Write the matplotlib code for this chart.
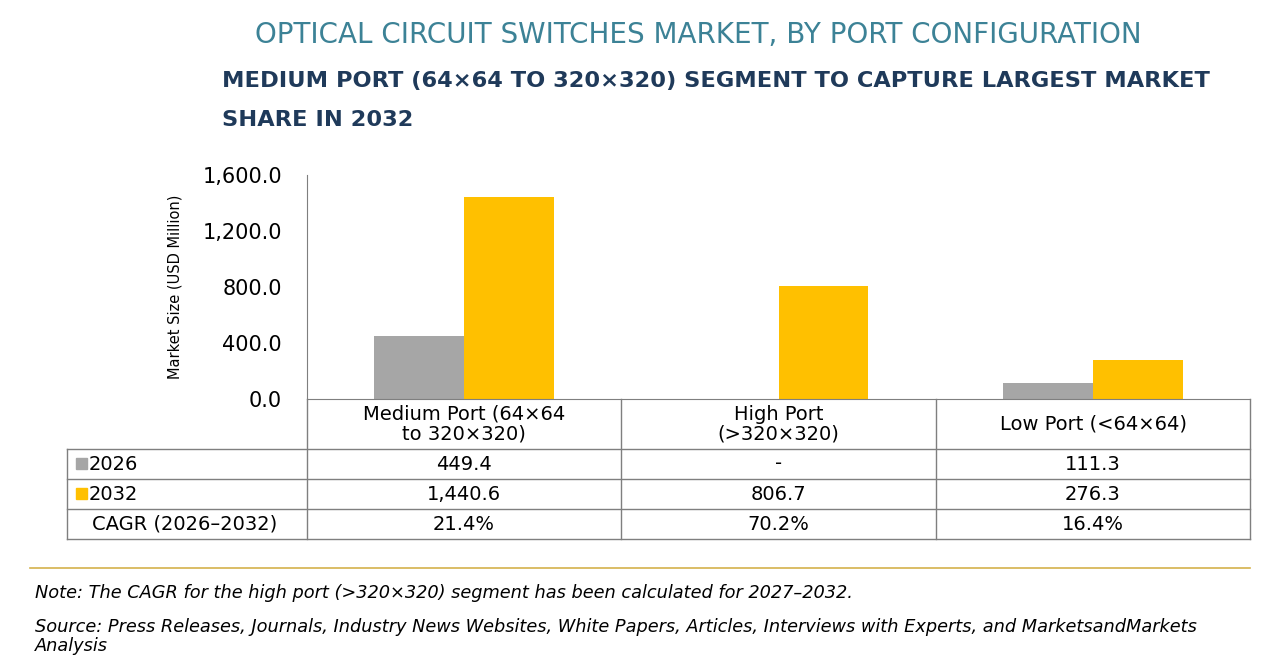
import matplotlib.pyplot as plt
import numpy as np

categories = ["Medium Port (64×64\nto 320×320)", "High Port\n(>320×320)", "Low Port (<64×64)"]
years = ["2026", "2032"]
values_2026 = [449.4, 0, 111.3]
values_2032 = [1440.6, 806.7, 276.3]
labels_2026 = ["449.4", "-", "111.3"]
labels_2032 = ["1,440.6", "806.7", "276.3"]
labels_cagr = ["21.4%", "70.2%", "16.4%"]
yticks = [0, 400, 800, 1200, 1600]

gray = "#a6a6a6"
orange = "#ffc000"
W, H = 1280, 670

plt.rcParams['font.family'] = ['DejaVu Sans']
fig = plt.figure(figsize=(12.8, 6.7), dpi=100)

def fx(px):
    return px / W

def fy(py):
    return 1 - py / H

fig.text(fx(698), fy(35), "OPTICAL CIRCUIT SWITCHES MARKET, BY PORT CONFIGURATION",
         ha="center", va="center", fontsize=20, color="#3c8296")
fig.text(fx(222), fy(81), "MEDIUM PORT (64×64 TO 320×320) SEGMENT TO CAPTURE LARGEST MARKET",
         ha="left", va="center", fontsize=16.2, color="#1f3a5a", fontweight="bold")
fig.text(fx(222), fy(120), "SHARE IN 2032",
         ha="left", va="center", fontsize=16.2, color="#1f3a5a", fontweight="bold")

ax = fig.add_axes([fx(307), fy(399), fx(1250) - fx(307), (399 - 175) / H])
x = np.arange(len(categories))
w = 0.286
ax.bar(x - w / 2, values_2026, w, color=gray)
ax.bar(x + w / 2, values_2032, w, color=orange)
ax.set_xlim(-0.5, 2.5)
ax.set_ylim(0, 1600)
ax.set_yticks(yticks)
ax.set_yticklabels([f"{v:,.1f}" for v in yticks], fontsize=15)
ax.set_xticks([])
for s in ["top", "right"]:
    ax.spines[s].set_visible(False)
ax.spines["left"].set_color("#7f7f7f")
ax.spines["bottom"].set_color("#7f7f7f")
ax.tick_params(axis="y", length=0, pad=18)
ax.set_ylabel("Market Size (USD Million)", fontsize=10.5, labelpad=14)

# table
tab = fig.add_axes([0, 0, 1, 1], facecolor="none")
tab.set_xlim(0, W)
tab.set_ylim(H, 0)
tab.axis("off")
lc = "#7f7f7f"
cols = [307, 621, 936, 1250]
rows = [399, 449, 479, 509, 539]
for c in cols:
    tab.plot([c, c], [399, 539], color=lc, lw=1)
tab.plot([67, 67], [449, 539], color=lc, lw=1)
for r in rows[1:]:
    tab.plot([67, 1250], [r, r], color=lc, lw=1)
fs = 14
for i, cat in enumerate(categories):
    cx = (cols[i] + cols[i + 1]) / 2
    tab.text(cx, 424, cat, ha="center", va="center", fontsize=fs, linespacing=1.0)
    tab.text(cx, 464, labels_2026[i], ha="center", va="center", fontsize=fs)
    tab.text(cx, 494, labels_2032[i], ha="center", va="center", fontsize=fs)
    tab.text(cx, 524, labels_cagr[i], ha="center", va="center", fontsize=fs)
tab.add_patch(plt.Rectangle((76, 458), 11, 11, color=gray))
tab.add_patch(plt.Rectangle((76, 488), 11, 11, color=orange))
tab.text(89, 464, years[0], ha="left", va="center", fontsize=fs)
tab.text(89, 494, years[1], ha="left", va="center", fontsize=fs)
tab.text(185, 524, "CAGR (2026–2032)", ha="center", va="center", fontsize=fs)

tab.plot([30, 1250], [568, 568], color="#d4b24c", lw=1.2)
nfs = 12.8
tab.text(35, 593, "Note: The CAGR for the high port (>320×320) segment has been calculated for 2027–2032.",
         ha="left", va="center", fontsize=nfs, style="italic")
tab.text(35, 627, "Source: Press Releases, Journals, Industry News Websites, White Papers, Articles, Interviews with Experts, and MarketsandMarkets",
         ha="left", va="center", fontsize=nfs, style="italic")
tab.text(35, 646, "Analysis", ha="left", va="center", fontsize=nfs, style="italic")

fig.savefig("out.png", dpi=100)
